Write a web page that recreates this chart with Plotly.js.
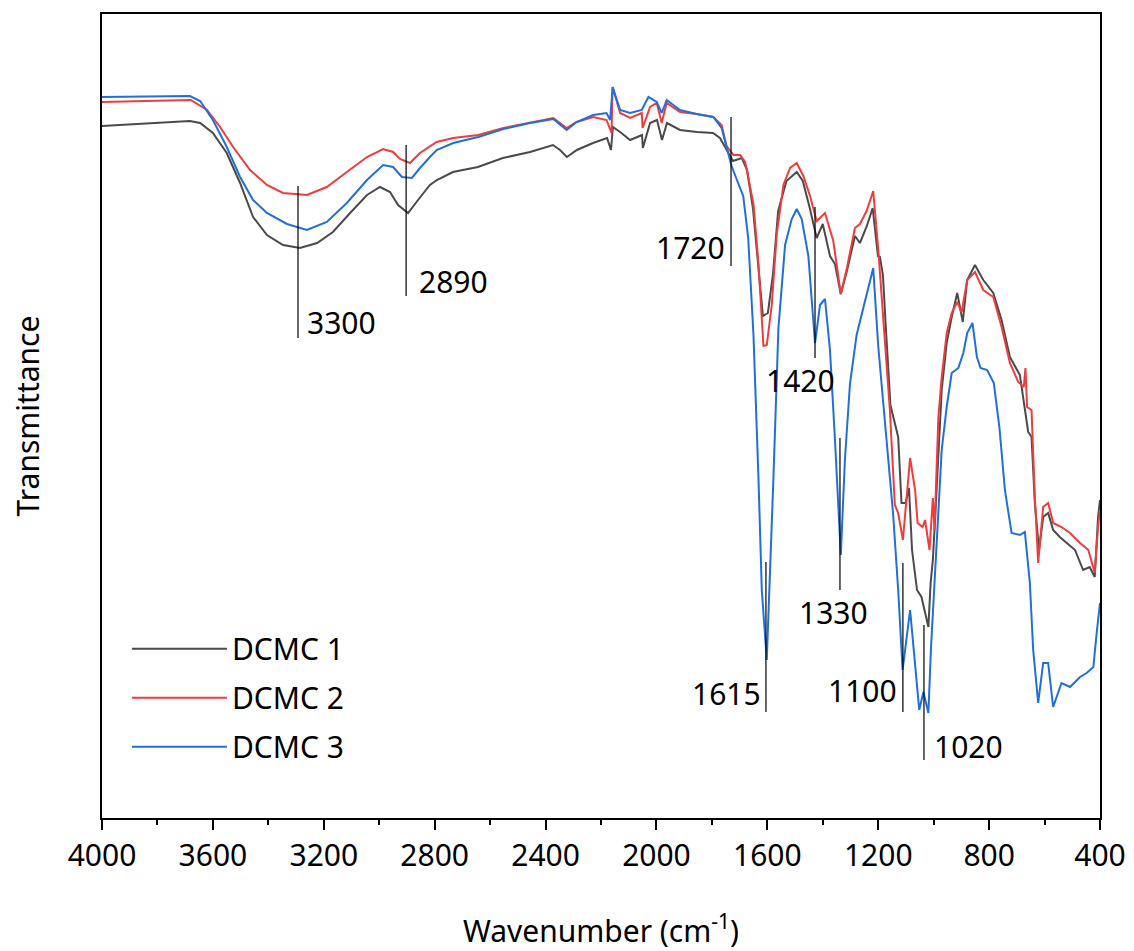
<!DOCTYPE html>
<html>
<head>
<meta charset="utf-8">
<script src="https://cdn.plot.ly/plotly-3.0.1.min.js"></script>
<style>html,body{margin:0;padding:0;background:#fff;}#chart{width:1134px;height:951px;}</style>
</head>
<body>
<div id="chart"></div>
<script>
// Wavenumber (cm-1) and transmittance (a.u.)
const wnDCMC1 = [4000,3860,3683,3646,3600,3550,3502,3455,3405,3347,3286,3224,3167,3105,3044,2997,2961,2932,2896,2860,2817,2792,2734,2644,2554,2456,2373,2348,2323,2287,2229,2178,2164,2157,2131,2095,2052,2049,2023,1998,1980,1962,1915,1854,1796,1771,1746,1724,1692,1673,1652,1634,1616,1598,1580,1561,1531,1494,1472,1447,1422,1400,1374,1356,1335,1313,1284,1266,1241,1220,1201,1194,1183,1172,1156,1128,1116,1101,1089,1078,1060,1044,1019,1011,1003,995,983,971,953,935,915,895,879,851,821,785,755,725,689,671,659,647,635,620,605,587,569,545,520,490,461,437,419,407,400];
const tDCMC1 = [69.2,69.4,69.7,69.5,68.5,66.5,63.5,60.1,58.3,57.3,57.0,57.5,58.6,60.5,62.3,63.1,62.6,61.3,60.5,61.8,63.3,63.8,64.6,65.1,66.0,66.6,67.3,66.8,66.1,66.8,67.5,68.0,66.8,69.1,68.6,67.8,68.3,67.0,69.5,69.8,67.8,69.5,68.8,68.6,68.5,68.0,66.8,65.7,66.0,64.8,61.0,55.4,50.2,50.5,54.3,60.7,63.7,64.6,63.7,61.0,58.0,59.4,56.2,55.4,52.4,54.7,58.2,57.5,59.2,61.0,56.2,56.1,54.3,48.8,41.3,38.1,31.5,31.5,33.0,26.8,22.8,22.1,19.1,23.5,25.8,29.8,36.8,42.8,47.5,50.1,52.5,49.6,53.8,55.3,53.8,52.5,49.8,46.1,44.3,41.1,38.6,38.1,31.5,26.8,30.1,30.5,28.8,28.1,27.5,26.8,24.8,25.1,24.1,30.1,31.8];

const wnDCMC2 = [4000,3680,3621,3574,3527,3466,3405,3347,3261,3189,3117,3044,2986,2950,2925,2889,2853,2817,2793,2733,2643,2552,2456,2372,2324,2288,2228,2180,2162,2158,2131,2095,2053,2050,2023,1999,1981,1963,1915,1855,1795,1765,1747,1722,1698,1680,1650,1632,1614,1602,1584,1566,1542,1518,1494,1470,1446,1422,1392,1362,1335,1313,1284,1266,1242,1218,1200,1185,1172,1158,1140,1128,1111,1085,1067,1058,1040,1031,1015,1003,997,983,971,953,935,915,899,879,851,821,785,755,725,695,675,669,663,647,635,623,605,587,569,539,508,472,442,419,407,400];
const tDCMC2 = [71.6,71.8,70.8,69.1,67.1,64.8,63.3,62.5,62.3,63.1,64.6,66.1,66.9,66.6,65.9,65.5,66.5,67.2,67.6,68.0,68.3,69.0,69.5,70.0,69.0,69.6,70.1,69.8,68.5,73.1,70.5,70.0,70.5,69.0,71.1,71.5,69.5,71.5,70.6,70.4,70.1,69.3,67.2,66.3,66.3,65.6,61.4,55.4,47.2,47.3,51.3,58.4,63.3,65.0,65.5,64.2,62.2,59.7,60.5,57.7,52.4,55.0,59.0,59.4,60.7,62.7,56.9,50.9,45.8,40.8,31.3,30.5,27.8,36.0,32.8,29.5,29.1,29.8,26.8,32.0,28.8,40.1,44.1,48.5,50.5,51.6,50.6,53.8,54.6,52.8,52.1,49.1,45.5,43.6,43.1,45.0,41.1,40.8,32.1,25.5,31.1,31.5,29.5,29.1,28.5,27.5,26.8,24.5,29.1,30.8];

const wnDCMC3 = [4000,3683,3646,3600,3550,3502,3455,3405,3333,3261,3189,3117,3044,2986,2950,2918,2882,2853,2817,2793,2733,2643,2552,2456,2372,2324,2288,2228,2180,2167,2158,2131,2095,2053,2029,1999,1981,1963,1915,1855,1795,1765,1747,1729,1711,1687,1669,1650,1632,1620,1602,1590,1578,1560,1536,1512,1494,1476,1452,1428,1410,1392,1374,1356,1335,1320,1302,1278,1254,1218,1200,1170,1146,1128,1112,1085,1067,1052,1037,1019,1010,997,983,971,953,935,911,893,879,860,844,831,807,783,763,743,719,689,671,665,653,641,623,605,587,569,539,508,472,448,424,412,400];
const tDCMC3 = [72.1,72.2,71.7,69.8,67.1,64.1,61.8,60.5,59.4,58.8,59.6,61.5,63.8,65.3,65.1,64.1,64.0,65.0,66.1,66.8,67.5,68.1,68.9,69.5,69.9,68.8,69.6,70.3,70.5,69.8,73.1,70.8,70.5,70.8,72.1,71.6,70.5,71.8,70.8,70.4,70.1,69.0,67.1,65.2,63.9,62.2,58.0,48.3,34.0,22.8,15.8,24.6,34.0,49.0,57.3,59.9,60.9,59.9,56.2,47.5,51.3,51.9,46.8,37.8,26.3,35.9,43.4,48.3,50.9,55.0,47.2,37.8,30.3,22.8,14.8,20.8,15.1,10.8,12.6,10.5,16.8,23.5,30.1,36.8,41.1,44.5,45.0,46.5,48.5,49.5,46.1,45.0,44.8,43.5,39.1,32.8,28.5,28.3,28.6,26.8,23.5,16.8,11.5,15.5,15.5,11.1,13.5,13.1,14.1,14.5,15.1,18.5,21.5];

const seriesNames = ["DCMC 1","DCMC 2","DCMC 3"];
const seriesColors = ["#4a4a4a","#f03c3c","#1f6fdc"];

// Peak markers: label, line position, line ends, label position
const peakLabels = ["3300","2890","1720","1420","1330","1615","1100","1020"];
const peakLineX  = [3293,2903,1731,1428,1338,1605,1111,1035];
const peakLineY0 = [63.2,67.3,70.1,61.1,38.0,25.6,25.5,19.3];
const peakLineY1 = [48.0,52.2,55.2,46.0,22.8,10.6,10.6,5.8];
const peakTextX  = [3268,2864,1745,1482,1363,1616,1125,1006];
const peakTextY  = [49.6,53.7,57.1,43.8,20.6,12.5,12.8,7.2];
const peakAnchor = ["left","left","right","center","center","right","right","left"];

const xs = [wnDCMC1, wnDCMC2, wnDCMC3];
const ys = [tDCMC1, tDCMC2, tDCMC3];
const FONT = "Noto Sans, Open Sans, sans-serif";

const traces = seriesNames.map((n,i)=>({
  x: xs[i], y: ys[i], name: n, type: "scatter", mode: "lines",
  line: {color: seriesColors[i], width: 2},
  legendgroup: "g"+i
}));

const shapes = peakLabels.map((l,i)=>({
  type:"line", xref:"x", yref:"y",
  x0: peakLineX[i], x1: peakLineX[i], y0: peakLineY0[i], y1: peakLineY1[i],
  line:{color:"#000", width:1.2}
}));
const annotations = peakLabels.map((l,i)=>({
  xref:"x", yref:"y", x: peakTextX[i], y: peakTextY[i], text: l,
  showarrow:false, xanchor: peakAnchor[i], yanchor:"middle",
  font:{family:FONT, size:30, color:"#000"}
}));

const layout = {
  width:1134, height:951,
  margin:{l:102, r:34, t:14, b:133},
  paper_bgcolor:"#fff", plot_bgcolor:"#fff",
  font:{family:FONT, size:30, color:"#000"},
  showlegend:true,
  legend:{x:0.025, y:0.243, xanchor:"left", yanchor:"top",
    font:{family:FONT, size:30, color:"#000"},
    itemwidth:95, tracegroupgap:7, bgcolor:"rgba(0,0,0,0)"},
  xaxis:{
    range:[4000,400], autorange:false,
    tickvals:[4000,3600,3200,2800,2400,2000,1600,1200,800,400],
    ticks:"outside", ticklen:10, tickwidth:2, tickcolor:"#000",
    minor:{dtick:200, tick0:0, ticks:"outside", ticklen:5, tickwidth:2, tickcolor:"#000"},
    showline:true, linecolor:"#000", linewidth:2, mirror:true,
    showgrid:false, zeroline:false,
    tickfont:{family:FONT, size:30, color:"#000"},
    title:{text:"Wavenumber (cm<sup>-1</sup>)", font:{family:FONT, size:30, color:"#000"}, standoff:53}
  },
  yaxis:{
    range:[0,80.4], autorange:false,
    showticklabels:false, ticks:"",
    showline:true, linecolor:"#000", linewidth:2, mirror:true,
    showgrid:false, zeroline:false,
    title:{text:"Transmittance", font:{family:FONT, size:30, color:"#000"}, standoff:52}
  },
  shapes: shapes,
  annotations: annotations
};

Plotly.newPlot("chart", traces, layout, {displayModeBar:false, staticPlot:true});
</script>
</body>
</html>
